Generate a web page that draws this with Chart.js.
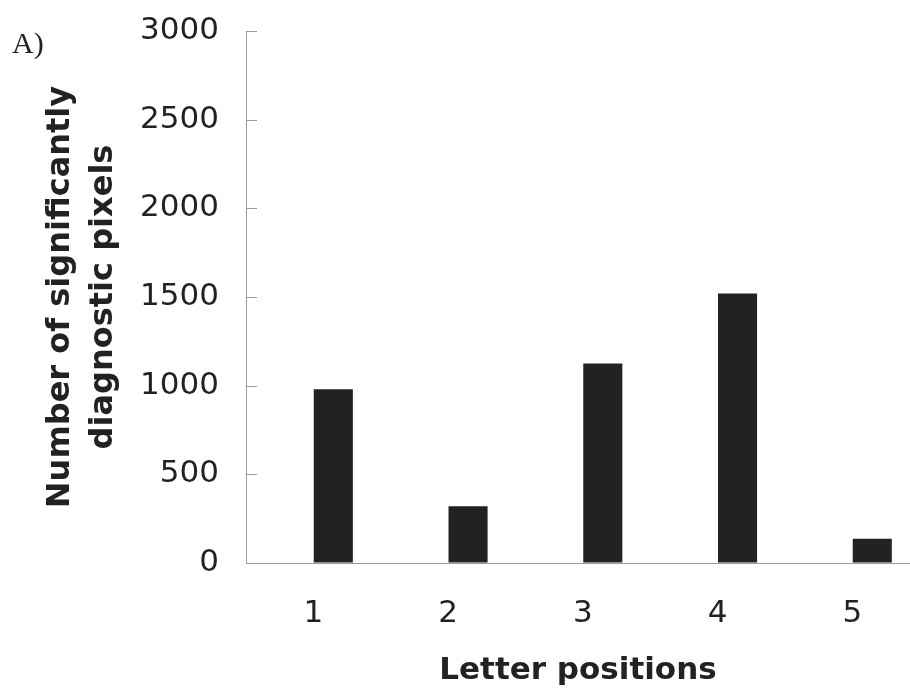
<!DOCTYPE html>
<html lang="en">
<head>
    <meta charset="UTF-8">
    <title>Letter positions</title>
    <script src="https://cdn.jsdelivr.net/npm/chart.js"></script>
    <style>
        body { margin: 0; background: #fff; }
        #wrap { position: relative; width: 910px; height: 694px; }
    </style>
</head>
<body>
<div id="wrap">
    <canvas id="barChart" width="910" height="694"></canvas>
</div>

<script>

var positions = ['1', '2', '3', '4', '5'];
var pixelCounts = [980, 320, 1125, 1520, 137];
var yTicks = [0, 500, 1000, 1500, 2000, 2500, 3000];

var ink = '#222222';
var axisGrey = '#9a9a9a';

// tick marks point into the plot, as in the original figure
var innerTicks = {
    id: 'innerTicks',
    afterDraw: function (chart) {
        var ctx = chart.ctx;
        var y = chart.scales.y;
        ctx.save();
        ctx.strokeStyle = axisGrey;
        ctx.lineWidth = 1;
        yTicks.forEach(function (v) {
            var py = Math.round(y.getPixelForValue(v)) + 0.5;
            ctx.beginPath();
            ctx.moveTo(y.right, py);
            ctx.lineTo(y.right + 11, py);
            ctx.stroke();
        });
        // panel letter
        ctx.fillStyle = ink;
        ctx.font = '30px "Liberation Serif", serif';
        ctx.textBaseline = 'alphabetic';
        ctx.fillText('A)', 12, 53);
        ctx.restore();
    }
};

var barData = {
    datasets: [{
        data: positions.map(function (p, i) { return { x: i + 1, y: pixelCounts[i] }; }),
        backgroundColor: ink,
        borderWidth: 0,
        categoryPercentage: 1,
        barPercentage: 0.29
    }]
};

var ctx = document.getElementById('barChart').getContext('2d');
var chart = new Chart(ctx, {
    type: 'bar',
    data: barData,
    plugins: [innerTicks],
    options: {
        responsive: false,
        animation: false,
        layout: { padding: { top: 31, right: 0, bottom: 0, left: 0 } },
        plugins: {
            legend: { display: false },
            tooltip: { enabled: false }
        },
        scales: {
            x: {
                type: 'linear',
                offset: false,
                min: 0.352,
                max: 5.28,
                afterBuildTicks: function (scale) {
                    scale.ticks = positions.map(function (p, i) { return { value: i + 1 }; });
                },
                afterFit: function (scale) {
                    scale.height = 131;
                    scale.paddingLeft = 0;
                    scale.paddingRight = 0;
                },
                grid: { display: true, offset: false, drawOnChartArea: false, drawTicks: false },
                border: { display: true, color: axisGrey, width: 1 },
                ticks: {
                    padding: 32,
                    labelOffset: -20,
                    color: ink,
                    font: { family: 'DejaVu Sans', size: 31 },
                    callback: function (value) { return positions[value - 1]; }
                },
                title: {
                    display: true,
                    text: 'Letter positions',
                    color: ink,
                    font: { family: 'DejaVu Sans', size: 31, weight: 'bold' },
                    padding: { top: 0, bottom: 4 }
                }
            },
            y: {
                min: 0,
                max: 3000,
                afterBuildTicks: function (scale) {
                    scale.ticks = yTicks.map(function (v) { return { value: v }; });
                },
                afterFit: function (scale) {
                    scale.width = 246;
                    scale.paddingTop = 0;
                    scale.paddingBottom = 0;
                },
                grid: { display: true, drawOnChartArea: false, drawTicks: false },
                border: { display: true, color: axisGrey, width: 1 },
                ticks: {
                    padding: 27,
                    color: ink,
                    font: { family: 'DejaVu Sans', size: 31 },
                    callback: function (value) { return String(value); }
                },
                title: {
                    display: true,
                    text: ['Number of significantly', 'diagnostic pixels'],
                    color: ink,
                    font: { family: 'DejaVu Sans', size: 32, weight: 'bold', lineHeight: 1.35 },
                    padding: { top: 39, bottom: 0 }
                }
            }
        }
    }
});

</script>
</body>
</html>
